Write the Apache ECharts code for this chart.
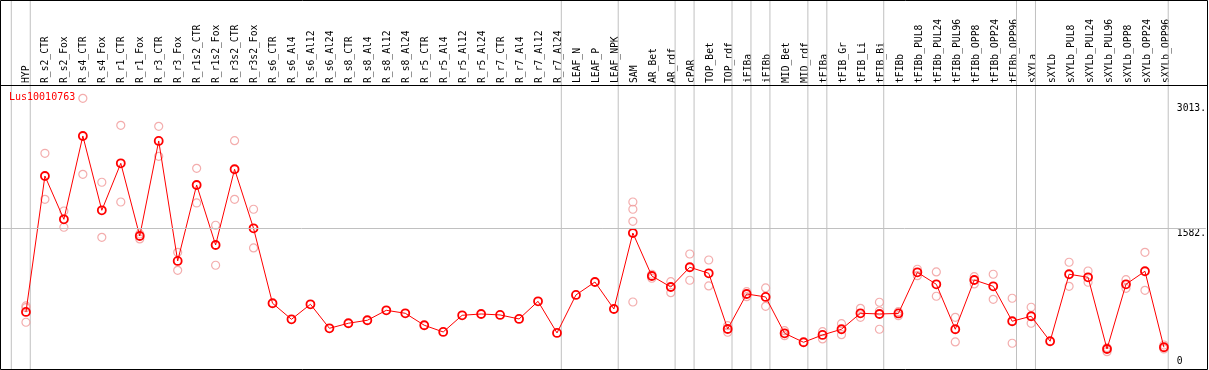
<!DOCTYPE html>
<html><head><meta charset="utf-8">
<script src="https://cdn.jsdelivr.net/npm/echarts@6/dist/echarts.min.js"></script>
<style>html,body{margin:0;padding:0;background:#fff}#c{width:1209px;height:370px}</style>
</head><body><div id="c"></div>
<script>
const categories = ['HYP','R_s2_CTR','R_s2_Fox','R_s4_CTR','R_s4_Fox','R_r1_CTR','R_r1_Fox','R_r3_CTR','R_r3_Fox','R_r1s2_CTR','R_r1s2_Fox','R_r3s2_CTR','R_r3s2_Fox','R_s6_CTR','R_s6_Al4','R_s6_Al12','R_s6_Al24','R_s8_CTR','R_s8_Al4','R_s8_Al12','R_s8_Al24','R_r5_CTR','R_r5_Al4','R_r5_Al12','R_r5_Al24','R_r7_CTR','R_r7_Al4','R_r7_Al12','R_r7_Al24','LEAF_N','LEAF_P','LEAF_NPK','SAM','AR_Bet','AR_rdf','cPAR','TOP_Bet','TOP_rdf','iFIBa','iFIBb','MID_Bet','MID_rdf','tFIBa','tFIB_Gr','tFIB_Li','tFIB_Bi','tFIBb','tFIBb_PUL8','tFIBb_PUL24','tFIBb_PUL96','tFIBb_OPP8','tFIBb_OPP24','tFIBb_OPP96','sXYLa','sXYLb','sXYLb_PUL8','sXYLb_PUL24','sXYLb_PUL96','sXYLb_OPP8','sXYLb_OPP24','sXYLb_OPP96'];
const meanValues = [624,2181,1685,2639,1788,2326,1494,2582,1208,2078,1391,2258,1582,724,540,712,437,495,529,643,609,472,395,586,601,590,544,746,384,819,967,658,1528,1036,910,1136,1067,429,830,796,380,277,361,426,609,601,607,1078,941,426,990,918,518,575,289,1056,1021,200,941,1090,220];
const replicateValues = [
  [693,673,506],[2441,1914],[1780,1594],[3070,2200],[2109,1479],[2761,1883],[1517,1460],[2750,2406],[1307,1101],[2269,1872],[1617,1159],[2585,1914],[1800,1357],
  [],[],[],[],[],[],[],[],[],[],[],[],[],[],[],[],[],[],[],
  [1883,1800,1662,738],[1056,1010],[971,845],[1288,987],[1219,922],[467,392],[856,799],[899,689],[410,353],[],[398,315],[490,364],[666,563],[735,635,426],[627,582],
  [1113,1040],[1082,804],[563,281],[1028,945],[1056,769],[781,266],[678,495],[],[1193,918],[1093,964],[215,169],[994,895],[1307,872],[246,200]
];
const groupEnds = [-1,0,28,31,34,35,37,38,39,41,42,45,52,53,60];
const yTickValues = [3013,1582];
const yTickLabels = ['3013.','1582.'];
const yZeroValue = [0];
const yZeroLabel = ['0'];
const gridLineValue = 1582;
const seriesName = 'Lus10010763';

const mono = 'DejaVu Sans Mono';
// category i is drawn at axis value i + 1
const step = 19, firstX = 26, plotW = 1208;
const xMin = 1 - firstX / step, xMax = xMin + plotW / step;
const yMin = -29, yMax = 4196;

const meanData = meanValues.map((v, i) => [i + 1, v]);
const repData = [];
replicateValues.forEach((arr, i) => arr.forEach(v => repData.push([i + 1, v])));
const sepData = [];
groupEnds.forEach(g => { sepData.push([g + 1.227, yMin], [g + 1.227, yMax], '-'); });

const chart = echarts.init(document.getElementById('c'), null, { renderer: 'canvas' });
const yLabelMap = {};
yTickValues.forEach((v, i) => yLabelMap[v] = yTickLabels[i]);
const yZeroMap = {};
yZeroValue.forEach((v, i) => yZeroMap[v] = yZeroLabel[i]);

chart.setOption({
  animation: false,
  backgroundColor: '#fff',
  title: { text: seriesName, left: 9, top: 92, padding: 0,
    textStyle: { color: '#ff0000', fontSize: 10, fontFamily: mono, fontWeight: 'normal' } },
  grid: [
    { left: 0, right: 1, top: 0, bottom: 1 },
    { left: firstX - step / 2, width: step * categories.length, top: 85, height: 20 }
  ],
  xAxis: [
    { type: 'value', gridIndex: 0, min: xMin, max: xMax, show: false },
    { type: 'category', gridIndex: 1, position: 'top', data: categories, boundaryGap: true,
      axisLine: { show: false }, axisTick: { show: false }, splitLine: { show: false },
      axisLabel: { interval: 0, rotate: 90, margin: 2, fontSize: 9.7, fontFamily: mono, color: '#000' } }
  ],
  yAxis: [
    { type: 'value', gridIndex: 0, min: yMin, max: yMax, show: false },
    { type: 'value', gridIndex: 0, min: yMin, max: yMax, position: 'right', offset: -29,
      axisLine: { show: false }, axisTick: { show: false }, splitLine: { show: false },
      axisLabel: { customValues: yTickValues, margin: 0, verticalAlign: 'top', align: 'left',
        fontSize: 9.7, fontFamily: mono, color: '#000', formatter: v => yLabelMap[v] } },
    { type: 'value', gridIndex: 0, min: yMin, max: yMax, position: 'right', offset: -29,
      axisLine: { show: false }, axisTick: { show: false }, splitLine: { show: false },
      axisLabel: { customValues: yZeroValue, margin: 0, verticalAlign: 'bottom', align: 'left',
        fontSize: 9.7, fontFamily: mono, color: '#000', formatter: v => yZeroMap[v] } },
    { type: 'value', gridIndex: 1, show: false }
  ],
  graphic: [
    { type: 'rect', shape: { x: 0.5, y: 0.5, width: 1207, height: 369 }, style: { fill: null, stroke: '#000', lineWidth: 1 }, z: 100 },
    { type: 'line', shape: { x1: 0, y1: 85.5, x2: 1208, y2: 85.5 }, style: { stroke: '#000', lineWidth: 1 }, z: 100 }
  ],
  series: [
    { type: 'line', name: 'separators', xAxisIndex: 0, yAxisIndex: 0, data: sepData,
      symbol: 'none', silent: true, connectNulls: false, clip: false,
      lineStyle: { color: '#c0c0c0', width: 1 }, z: 1,
      markLine: { silent: true, symbol: 'none', label: { show: false }, animation: false,
        lineStyle: { color: '#c0c0c0', width: 1, type: 'solid' },
        data: [{ yAxis: gridLineValue }] } },
    { type: 'scatter', name: 'replicates', xAxisIndex: 0, yAxisIndex: 0, data: repData,
      symbol: 'circle', symbolSize: 8,
      itemStyle: { color: 'rgba(0,0,0,0)', borderColor: '#f09898', borderWidth: 1.2 }, z: 3 },
    { type: 'line', name: seriesName, xAxisIndex: 0, yAxisIndex: 0, data: meanData,
      symbol: 'circle', symbolSize: 8, showAllSymbol: true,
      lineStyle: { color: '#ff0000', width: 1 },
      itemStyle: { color: 'rgba(0,0,0,0)', borderColor: '#ff0000', borderWidth: 1.8 }, z: 4 }
  ]
});
</script></body></html>
